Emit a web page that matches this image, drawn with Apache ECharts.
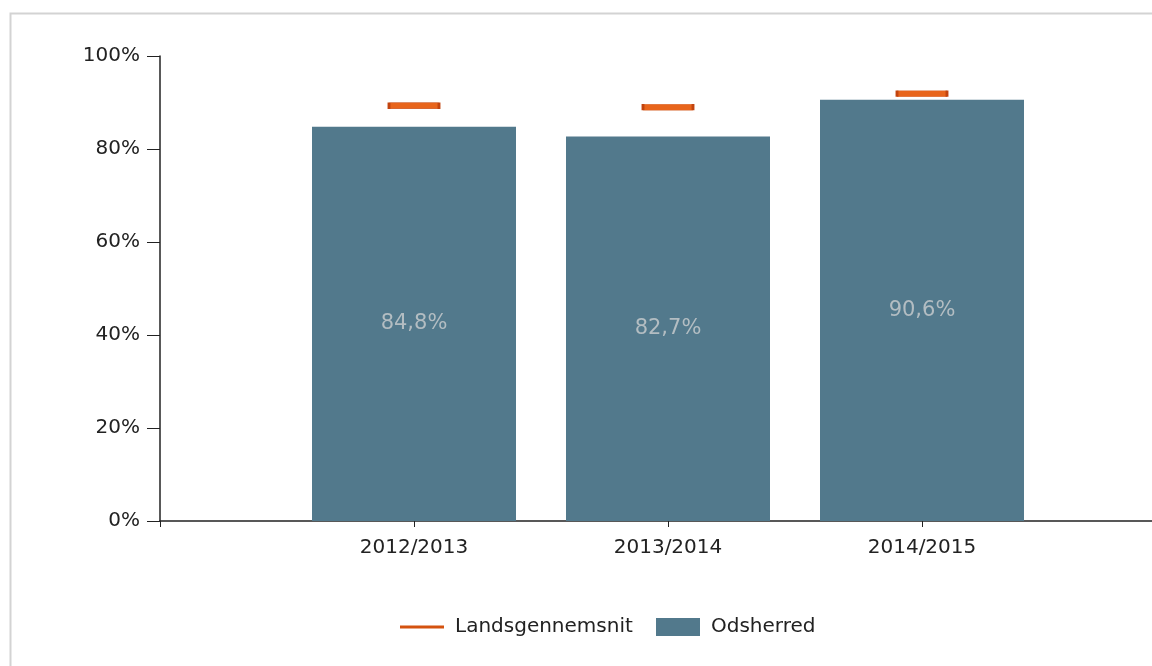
<!DOCTYPE html>
<html>
<head>
<meta charset="utf-8">
<script src="https://cdn.jsdelivr.net/npm/echarts@6/dist/echarts.min.js"></script>
<style>
  html, body { margin: 0; padding: 0; background: #fff; }
  #chart { width: 1152px; height: 666px; }
</style>
</head>
<body>
<div id="chart"></div>
<script>
// data
var categories = ['2012/2013', '2013/2014', '2014/2015']
var odsherred = [84.8, 82.7, 90.6]
var landsgennemsnit = [89.3, 89.0, 91.9]
var yTicks = [0, 20, 40, 60, 80, 100]

// one empty slot on each side so the categories sit on the axis points
var axisData = [''].concat(categories).concat([''])
function pad(arr) {
  return [null].concat(arr).concat([null])
}

var labelFont = 'DejaVu Sans, Arial, sans-serif'
var chart = echarts.init(document.getElementById('chart'))

chart.setOption({
  backgroundColor: '#fff',
  animation: false,
  textStyle: { fontFamily: labelFont },
  graphic: [
    {
      type: 'rect',
      left: 8,
      top: 11,
      shape: { width: 1300, height: 800 },
      style: { fill: 'none', stroke: '#d3d3d3', lineWidth: 2 },
      silent: true
    }
  ],
  grid: {
    left: 160,
    top: 56,
    bottom: 145,
    right: -24,
    outerBoundsMode: 'none',
    containLabel: false
  },
  legend: [
    {
      left: 400,
      top: 617,
      padding: 0,
      itemWidth: 44,
      itemHeight: 18,
      data: [{ name: 'Landsgennemsnit', icon: 'path://M0,0H44V3H0Z', itemStyle: { color: '#d4520f', borderWidth: 0 } }],
      textStyle: { fontSize: 20, color: '#222', padding: [0, 0, 0, 6] }
    },
    {
      left: 656,
      top: 617,
      padding: 0,
      itemWidth: 44,
      itemHeight: 18,
      data: [{ name: 'Odsherred', icon: 'rect' }],
      textStyle: { fontSize: 20, color: '#222', padding: [0, 0, 0, 6] }
    }
  ],
  xAxis: {
    type: 'category',
    data: axisData,
    boundaryGap: false,
    axisLine: { lineStyle: { color: '#222', width: 1.5 } },
    axisTick: { show: true, interval: 0, length: 6, lineStyle: { color: '#222' } },
    axisLabel: { fontSize: 20, color: '#222', margin: 17, interval: 0 },
    splitLine: { show: false }
  },
  yAxis: {
    type: 'value',
    min: yTicks[0],
    max: yTicks[yTicks.length - 1],
    interval: 20,
    axisLine: { show: true, lineStyle: { color: '#222', width: 1.5 } },
    axisTick: { show: true, length: 13, lineStyle: { color: '#222' } },
    axisLabel: { fontSize: 20, color: '#222', margin: 20, formatter: '{value}%' },
    splitLine: { show: false }
  },
  series: [
    {
      name: 'Odsherred',
      type: 'bar',
      barWidth: 204,
      data: pad(odsherred),
      itemStyle: { color: '#52798c' },
      label: {
        show: true,
        position: 'inside',
        fontSize: 21,
        color: '#b3bdc2',
        formatter: function (p) {
          return p.value.toFixed(1).replace('.', ',') + '%'
        }
      }
    },
    {
      name: 'Landsgennemsnit',
      type: 'scatter',
      symbol: 'rect',
      symbolSize: [50, 6],
      data: pad(landsgennemsnit),
      itemStyle: { color: '#e8651c', borderColor: '#c2440f', borderWidth: 1, opacity: 1 },
      z: 5
    }
  ]
})
</script>
</body>
</html>
